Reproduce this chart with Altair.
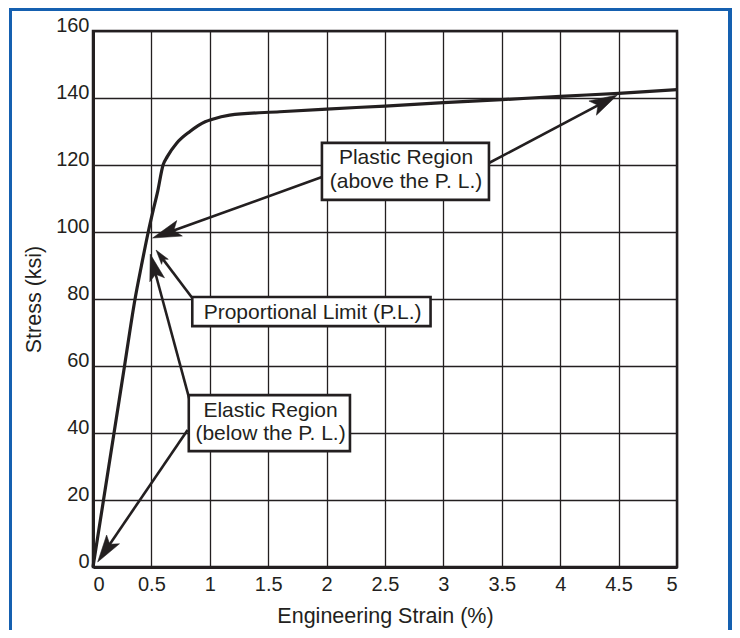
import math
import altair as alt
import pandas as pd

# ---- data ----
strain = [0, 0.09, 0.18, 0.27, 0.36, 0.415, 0.473, 0.516, 0.55, 0.60, 0.636,
          0.716, 0.83, 0.96, 1.016, 1.17, 1.6, 2.0, 2.5, 3.0, 3.5, 4.0, 4.5, 5.0]
stress = [0, 20, 40, 60, 80, 90, 100, 106.6, 111.5, 120, 122.5,
          126.5, 130, 132.9, 133.6, 134.9, 135.9, 136.7, 137.6, 138.6, 139.5, 140.5, 141.4, 142.5]

x_ticks = [0, 0.5, 1, 1.5, 2, 2.5, 3, 3.5, 4, 4.5, 5]
y_ticks = [0, 20, 40, 60, 80, 100, 120, 140, 160]

box_x1 = [1.96, 0.85, 0.82]
box_x2 = [3.39, 2.89, 2.20]
box_y1 = [126.6, 80.6, 51.3]
box_y2 = [109.6, 71.9, 34.6]

label_text = ["Plastic Region", "(above the P. L.)", "Proportional Limit (P.L.)",
              "Elastic Region", "(below the P. L.)"]
label_x = [2.68, 2.68, 1.88, 1.52, 1.52]
label_y = [120.2, 113.0, 73.9, 44.9, 38.0]

arrow_x0 = [1.96, 3.39, 0.85, 0.85, 0.81]
arrow_y0 = [116.4, 120.6, 80.3, 46.9, 40.9]
arrow_x1 = [0.51, 4.49, 0.54, 0.49, 0.04]
arrow_y1 = [98.2, 140.9, 94.6, 93.4, 1.5]
head_size = [420, 400, 110, 360, 380]

# ---- layout ----
W, H = 584, 536
PX_X = W / 5.0
PX_Y = H / 160.0
INK = "#231f20"
FONT = "Liberation Sans"
HEAD_LEN = 2.8  # in path units

curve_df = pd.DataFrame({"strain": strain, "stress": stress})
box_df = pd.DataFrame({"x1": box_x1, "x2": box_x2, "y1": box_y1, "y2": box_y2})
label_df = pd.DataFrame({"t": label_text, "x": label_x, "y": label_y})

rows = []
for x0, y0, x1, y1, s in zip(arrow_x0, arrow_y0, arrow_x1, arrow_y1, head_size):
    dxs = (x1 - x0) * PX_X
    dys = -(y1 - y0) * PX_Y
    L = math.hypot(dxs, dys)
    ux, uy = dxs / L, dys / L
    ang = math.degrees(math.atan2(dxs, -dys)) % 360
    back = 0.6 * HEAD_LEN * math.sqrt(s) / 2
    xe = x1 - back * ux / PX_X
    ye = y1 + back * uy / PX_Y
    rows.append({"x0": x0, "y0": y0, "xe": xe, "ye": ye, "x1": x1, "y1": y1,
                 "ang": ang, "size": s})
arrow_df = pd.DataFrame(rows)

xs = alt.Scale(domain=[0, 5], nice=False, zero=False)
ys = alt.Scale(domain=[0, 160], nice=False, zero=False)

curve = alt.Chart(curve_df).mark_line(
    color=INK, strokeWidth=3.2, interpolate="monotone"
).encode(
    x=alt.X("strain:Q", scale=xs,
            axis=alt.Axis(values=x_ticks, format="~g", title="Engineering Strain (%)",
                          titleX=W / 2, titleY=55, titleBaseline="alphabetic",
                          labelPadding=7)),
    y=alt.Y("stress:Q", scale=ys,
            axis=alt.Axis(values=y_ticks, title="Stress (ksi)",
                          labelBaseline="alphabetic", labelPadding=4,
                          titleX=-53, titleY=H / 2, titleBaseline="alphabetic")),
)

lines = alt.Chart(arrow_df).mark_rule(color=INK, strokeWidth=2.6).encode(
    x="x0:Q", y="y0:Q", x2="xe:Q", y2="ye:Q"
)

heads = alt.Chart(arrow_df).mark_point(
    shape="M0,0 L0.8,2.8 L0,2.2 L-0.8,2.8 Z", filled=True, fill=INK,
    stroke=INK, strokeWidth=0.5, opacity=1
).encode(
    x="x1:Q", y="y1:Q",
    angle=alt.Angle("ang:Q", scale=None),
    size=alt.Size("size:Q", scale=None),
)

boxes = alt.Chart(box_df).mark_rect(
    fill="white", stroke=INK, strokeWidth=2.6
).encode(x="x1:Q", x2="x2:Q", y="y1:Q", y2="y2:Q")

labels = alt.Chart(label_df).mark_text(
    font=FONT, fontSize=21, color=INK, align="center", baseline="alphabetic"
).encode(x="x:Q", y="y:Q", text="t:N")

frame = alt.Chart(curve_df).mark_rect(
    fill="transparent", stroke="#1560b0", strokeWidth=3
).encode(
    x=alt.value(-82.5), x2=alt.value(637), y=alt.value(-21.5), y2=alt.value(700)
)

chart = alt.layer(frame, curve, lines, boxes, labels, heads).properties(
    width=W, height=H,
    autosize=alt.AutoSizeParams(type="none"),
    padding={"left": 85, "top": 23, "right": 55, "bottom": 63},
    background="white",
).configure_view(
    stroke=INK, strokeWidth=2.5
).configure_axis(
    grid=True, gridColor=INK, gridWidth=1.3, gridOpacity=1,
    domainColor=INK, domainWidth=3,
    ticks=False,
    labelFont=FONT, labelFontSize=20, labelColor=INK,
    titleFont=FONT, titleFontSize=21.5, titleColor=INK, titleFontWeight="normal",
)

chart.save("out.html", embed_options={"renderer": "svg", "actions": False})
